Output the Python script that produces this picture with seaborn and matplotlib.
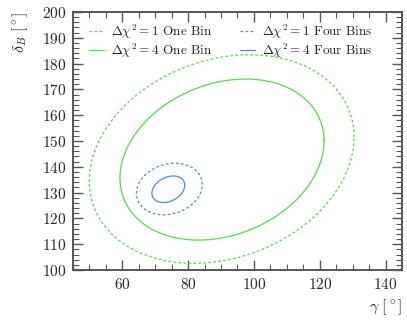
"""
Delta chi^2 contours in the (gamma, delta_B) plane, one bin vs four bins.
"""

import matplotlib

matplotlib.use("Agg")
import matplotlib.pyplot as plt
import numpy as np
import pandas as pd
import seaborn as sns
from matplotlib.ticker import MultipleLocator

# contour parameters (degrees)
curve_labels = [
    r"$\Delta\chi^2 = 1$ One Bin",
    r"$\Delta\chi^2 = 4$ One Bin",
    r"$\Delta\chi^2 = 1$ Four Bins",
    r"$\Delta\chi^2 = 4$ Four Bins",
]
center_gamma = [90.2, 90.3, 74.3, 74.0]
center_delta = [143.0, 142.8, 131.4, 131.3]
halfwidth_gamma = [40.2, 31.0, 10.0, 5.0]
halfwidth_delta = [40.4, 31.2, 10.0, 5.15]
correlation = [0.21, 0.23, 0.17, 0.30]

curve_colors = ["#52dc48", "#52dc48", "#4a8fdc", "#4a8fdc"]
curve_styles = [(0, (2.2, 1.8)), "-", (0, (2.2, 1.8)), "-"]

sns.set_style("ticks")
plt.rcParams["font.family"] = "serif"
plt.rcParams["font.serif"] = ["cmr10", "DejaVu Serif"]
plt.rcParams["mathtext.fontset"] = "cm"
plt.rcParams["axes.formatter.use_mathtext"] = True

fig = plt.figure(figsize=(4.07, 3.23), dpi=100)
ax = fig.add_axes([0.179, 0.164, 0.809, 0.799])

t = np.linspace(0, 2 * np.pi, 400)
for i, label in enumerate(curve_labels):
    r = correlation[i]
    df = pd.DataFrame({
        "gamma": center_gamma[i] + halfwidth_gamma[i] * np.cos(t),
        "delta": center_delta[i] + halfwidth_delta[i] * (r * np.cos(t) + np.sqrt(1 - r * r) * np.sin(t)),
    })
    sns.lineplot(data=df, x="gamma", y="delta", sort=False, estimator=None,
                 errorbar=None, ax=ax, color=curve_colors[i],
                 linestyle=curve_styles[i], linewidth=0.9, label=label)

ax.set_xlim(45, 145)
ax.set_ylim(100, 200)
ax.xaxis.set_major_locator(MultipleLocator(20))
ax.xaxis.set_minor_locator(MultipleLocator(5))
ax.yaxis.set_major_locator(MultipleLocator(10))
ax.yaxis.set_minor_locator(MultipleLocator(2))
ax.tick_params(which="both", direction="in", top=True, right=True,
               color="#555555", labelsize=11, pad=5)
ax.tick_params(which="major", length=7, width=1.0)
ax.tick_params(which="minor", length=4, width=0.8)
for s in ax.spines.values():
    s.set_color("#555555")
    s.set_linewidth(1.4)

ax.set_xlabel(r"$\gamma\ [^\circ]$", loc="right", fontsize=11.5)
ax.set_ylabel(r"$\delta_B\ [^\circ]$", loc="top", fontsize=11.5, labelpad=8)

ax.legend(loc="upper center", bbox_to_anchor=(0.48, 1.005), ncol=2,
          frameon=False, fontsize=9.5, handlelength=1.1, columnspacing=2.1,
          labelspacing=0.05, handletextpad=0.55)

plt.savefig("out.png", dpi=100)
plt.close()
